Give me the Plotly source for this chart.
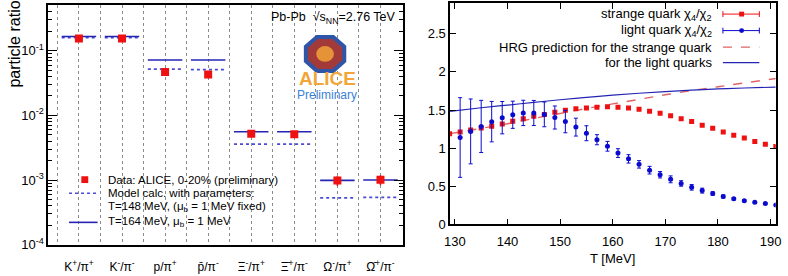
import plotly.graph_objects as go

W, H = 788, 276
FONT = "Liberation Sans, Arial, Helvetica, sans-serif"

# ---------------- left panel data ----------------
categories = ["K<sup>+</sup>/π<sup>+</sup>", "K<sup>-</sup>/π<sup>-</sup>", "p/π<sup>+</sup>",
              "p̄/π<sup>-</sup>", "Ξ<sup>-</sup>/π<sup>+</sup>", "Ξ̄<sup>+</sup>/π<sup>-</sup>",
              "Ω<sup>-</sup>/π<sup>+</sup>", "Ω̄<sup>+</sup>/π<sup>-</sup>"]
alice_data = [0.155, 0.155, 0.047, 0.043, 0.0052, 0.0051, 0.00098, 0.00101]
alice_err = [0.006, 0.006, 0.003, 0.003, 0.0004, 0.0004, 0.00017, 0.00018]
model_T148 = [0.159, 0.159, 0.052, 0.051, 0.0036, 0.0036, 0.00053, 0.00054]
model_T164 = [0.166, 0.166, 0.072, 0.072, 0.0056, 0.0056, 0.00099, 0.00100]
left_yticks = [1e-4, 1e-3, 1e-2, 1e-1]
left_yticktext = ["10<sup>-4</sup>", "10<sup>-3</sup>", "10<sup>-2</sup>", "10<sup>-1</sup>"]

# ---------------- right panel data ----------------
T_strange = [129, 131, 133, 135, 137, 139, 141, 143, 145, 147, 149, 151, 153, 155, 157, 159,
             161, 163, 165, 167, 169, 171, 173, 175, 177, 179, 181, 183, 185, 187, 189, 191]
chi_strange = [1.19, 1.213, 1.238, 1.264, 1.289, 1.318, 1.353, 1.387, 1.417, 1.442, 1.471, 1.497,
               1.518, 1.527, 1.537, 1.542, 1.537, 1.527, 1.51, 1.484, 1.459, 1.425, 1.387, 1.349,
               1.302, 1.26, 1.213, 1.171, 1.133, 1.089, 1.051, 1.022]
err_strange = [0.015, 0.015, 0.014, 0.014, 0.013, 0.013, 0.012, 0.012, 0.012, 0.012, 0.011, 0.011,
               0.011, 0.011, 0.01, 0.01, 0.01, 0.01, 0.01, 0.01, 0.01, 0.01, 0.01, 0.01,
               0.01, 0.01, 0.01, 0.01, 0.01, 0.01, 0.01, 0.01]
T_light = [131, 133, 135, 137, 139, 141, 143, 145, 147, 149, 151, 153, 155, 157, 159, 161,
           163, 165, 167, 169, 171, 173, 175, 177, 179, 181, 183, 185, 187, 189, 191]
chi_light = [1.14, 1.22, 1.285, 1.348, 1.40, 1.438, 1.462, 1.462, 1.443, 1.402, 1.349, 1.276,
             1.196, 1.111, 1.025, 0.936, 0.86, 0.788, 0.712, 0.652, 0.592, 0.538, 0.487, 0.444,
             0.406, 0.368, 0.338, 0.312, 0.291, 0.274, 0.257]
err_light = [0.522, 0.425, 0.342, 0.265, 0.212, 0.178, 0.166, 0.164, 0.162, 0.151, 0.147, 0.117,
             0.098, 0.066, 0.064, 0.057, 0.055, 0.049, 0.05, 0.042, 0.045, 0.036, 0.036, 0.032,
             0.023, 0.02, 0.015, 0.012, 0.012, 0.01, 0.01]
T_hrg = [129, 135, 140, 145, 150, 155, 160, 165, 170, 175, 180, 185, 191]
hrg_strange = [1.19, 1.26, 1.32, 1.39, 1.455, 1.52, 1.58, 1.64, 1.70, 1.755, 1.805, 1.855, 1.913]
hrg_light = [1.483, 1.53, 1.565, 1.60, 1.635, 1.665, 1.695, 1.72, 1.742, 1.76, 1.776, 1.789, 1.80]

RED = "#ee1111"
BLUE = "#0b0bd0"
DBLUE = "#2424b4"
LBLUE = "#4a4ad6"
HRG_RED = "#e06464"


def px(x):
    return x / W


def py(y):
    return 1 - y / H


fig = go.Figure()

# ---- left panel: model segments built from category index ----
idx = list(range(len(categories)))
half = 0.4


def segments(vals):
    xs, ys = [], []
    for i, v in zip(idx, vals):
        xs += [i - half, i + half, None]
        ys += [v, v, None]
    return xs, ys


sx, sy = segments(model_T148)
fig.add_trace(go.Scatter(x=sx, y=sy, mode="lines", xaxis="x", yaxis="y",
                         line=dict(color=LBLUE, width=1.6, dash="dot"), showlegend=False))
sx, sy = segments(model_T164)
fig.add_trace(go.Scatter(x=sx, y=sy, mode="lines", xaxis="x", yaxis="y",
                         line=dict(color=DBLUE, width=1.6), showlegend=False))
fig.add_trace(go.Scatter(x=idx, y=alice_data, mode="markers", xaxis="x", yaxis="y",
                         marker=dict(symbol="square", size=8, color=RED),
                         error_y=dict(type="data", array=alice_err, color=RED, thickness=1.5, width=0),
                         showlegend=False))

# ---- right panel ----
fig.add_trace(go.Scatter(x=T_hrg, y=hrg_strange, mode="lines", xaxis="x2", yaxis="y2",
                         line=dict(color=HRG_RED, width=1.4, dash="dash", shape="spline"),
                         showlegend=False))
fig.add_trace(go.Scatter(x=T_hrg, y=hrg_light, mode="lines", xaxis="x2", yaxis="y2",
                         line=dict(color=DBLUE, width=1.2, shape="spline"), showlegend=False))
fig.add_trace(go.Scatter(x=T_strange, y=chi_strange, mode="markers", xaxis="x2", yaxis="y2",
                         marker=dict(symbol="square", size=5, color=RED),
                         error_y=dict(type="data", array=err_strange, color=RED, thickness=1, width=2),
                         showlegend=False, cliponaxis=True))
fig.add_trace(go.Scatter(x=T_light, y=chi_light, mode="markers", xaxis="x2", yaxis="y2",
                         marker=dict(symbol="circle", size=5, color=BLUE),
                         error_y=dict(type="data", array=err_light, color=BLUE, thickness=1, width=2),
                         showlegend=False, cliponaxis=True))

# minor log ticks for left panel
minor_vals = []
for e in [1e-4, 1e-3, 1e-2, 1e-1]:
    for k in range(2, 10):
        if k * e < 0.5:
            minor_vals.append(k * e)

fig.update_layout(
    width=W, height=H,
    margin=dict(l=0, r=0, t=0, b=0),
    paper_bgcolor="white", plot_bgcolor="white",
    font=dict(family=FONT, size=13, color="black"),
    showlegend=False,
    xaxis=dict(domain=[px(43), px(403)], range=[-0.71, 7.52],
               tickmode="array", tickvals=idx, ticktext=categories,
               ticks="", showline=True, linecolor="black", linewidth=2, mirror=True,
               showgrid=True, gridcolor="#8a8a8a", griddash="dot", gridwidth=1,
               zeroline=False, tickfont=dict(size=12), ticklabelstandoff=10,
               minor=dict(tickvals=[i - 0.5 for i in idx] + [7.5], showgrid=True,
                          gridcolor="#8a8a8a", griddash="dot", gridwidth=1, ticks="")),
    yaxis=dict(domain=[py(252), py(5)], type="log", range=[-4, -0.29],
               tickmode="array", tickvals=left_yticks, ticktext=left_yticktext,
               ticks="inside", ticklen=9, tickwidth=1.2, tickcolor="black",
               showline=True, linecolor="black", linewidth=2, mirror="allticks",
               showgrid=False, zeroline=False, tickfont=dict(size=13),
               minor=dict(tickvals=minor_vals, ticks="inside", ticklen=4, tickcolor="black",
                          tickwidth=1, showgrid=False)),
    xaxis2=dict(domain=[px(451), px(781.5)], range=[129.1, 190.95], anchor="y2",
                tickmode="array", tickvals=[130, 140, 150, 160, 170, 180, 190],
                ticks="inside", ticklen=6, tickcolor="black", tickwidth=1,
                showline=True, linecolor="black", linewidth=1.5, mirror="allticks",
                showgrid=False, zeroline=False, tickfont=dict(size=13), ticklabelstandoff=4),
    yaxis2=dict(domain=[py(231.2), py(3.3)], range=[0, 2.9], anchor="x2",
                tickmode="array", tickvals=[0, 0.5, 1, 1.5, 2, 2.5],
                ticktext=["0", "0.5", "1", "1.5", "2", "2.5"],
                ticks="inside", ticklen=6, tickcolor="black", tickwidth=1,
                showline=True, linecolor="black", linewidth=1.5, mirror="allticks",
                showgrid=False, zeroline=False, tickfont=dict(size=13)),
)

ann = []
shapes = []


def text(x, y, s, size=12, xa="left", ya="middle", color="black", angle=0, bold=False):
    ann.append(dict(x=px(x), y=py(y), xref="paper", yref="paper", text=("<b>%s</b>" % s if bold else s),
                    showarrow=False, xanchor=xa, yanchor=ya, textangle=angle,
                    font=dict(family=FONT, size=size, color=color)))


# axis titles
text(9, 45, "particle ratio", size=16, xa="center", ya="middle", angle=-90)
text(616, 266, "T [MeV]", size=13, xa="center")

# left panel label and logo
text(267, 19, "Pb-Pb  √s<sub>NN</sub>=2.76 TeV", size=12.5)
cx, cy, rx, ry = 324, 55.5, 19.5, 17.5
k = 0.42
pts = [(cx - rx * k, cy - ry), (cx + rx * k, cy - ry), (cx + rx, cy - ry * k), (cx + rx, cy + ry * k),
       (cx + rx * k, cy + ry), (cx - rx * k, cy + ry), (cx - rx, cy + ry * k), (cx - rx, cy - ry * k)]
path = "M " + " L ".join("%.4f,%.4f" % (px(a), py(b)) for a, b in pts) + " Z"
shapes.append(dict(type="path", path=path, xref="paper", yref="paper",
                   fillcolor="#a23a3a", line=dict(color="#2f55a8", width=4)))
shapes.append(dict(type="circle", xref="paper", yref="paper",
                   x0=px(cx - 9), x1=px(cx + 9), y0=py(cy + 8), y1=py(cy - 8),
                   fillcolor="#f2a23a", line=dict(width=0), opacity=0.85))
text(326, 81, "ALICE", size=19, xa="center", color="#f2a63a", bold=True)
text(326, 98, "Preliminary", size=12, xa="center", color="#3a7fd8")

# left legend
shapes.append(dict(type="rect", xref="paper", yref="paper",
                   x0=px(76.5), x1=px(83.5), y0=py(188.5), y1=py(181.5),
                   fillcolor=RED, line=dict(width=0)))
text(102, 185, "Data: ALICE, 0-20% (preliminary)", size=11.5)
shapes.append(dict(type="line", xref="paper", yref="paper", x0=px(64), x1=px(93), y0=py(199), y1=py(199),
                   line=dict(color=LBLUE, width=1.6, dash="dot")))
text(102, 199, "Model calc. with parameters:", size=11.5)
text(102, 213, "T=148 MeV, (μ<sub>b</sub> = 1 MeV fixed)", size=11.5)
shapes.append(dict(type="line", xref="paper", yref="paper", x0=px(64), x1=px(93), y0=py(229), y1=py(229),
                   line=dict(color=DBLUE, width=1.6)))
text(102, 229, "T=164 MeV, μ<sub>b</sub> = 1 MeV", size=11.5)

# right legend (gnuplot style: text right, sample to the right)
rows = [(14.5, "strange quark χ<sub>4</sub>/χ<sub>2</sub>"),
        (31.5, "light quark χ<sub>4</sub>/χ<sub>2</sub>"),
        (48.5, "HRG prediction for the strange quark"),
        (64.5, "for the light quarks")]
for yy, s in rows:
    text(719, yy, s, size=13, xa="right")
x0s, x1s = 728, 765
for yy, col in [(14.5, RED), (31.5, BLUE)]:
    shapes.append(dict(type="line", xref="paper", yref="paper", x0=px(x0s), x1=px(x1s), y0=py(yy), y1=py(yy),
                       line=dict(color=col, width=1)))
    for xe in (x0s, x1s):
        shapes.append(dict(type="line", xref="paper", yref="paper", x0=px(xe), x1=px(xe),
                           y0=py(yy - 3), y1=py(yy + 3), line=dict(color=col, width=1)))
shapes.append(dict(type="rect", xref="paper", yref="paper", x0=px(744.5), x1=px(749.5),
                   y0=py(17), y1=py(12), fillcolor=RED, line=dict(width=0)))
shapes.append(dict(type="circle", xref="paper", yref="paper", x0=px(744.5), x1=px(749.5),
                   y0=py(34), y1=py(29), fillcolor=BLUE, line=dict(width=0)))
shapes.append(dict(type="line", xref="paper", yref="paper", x0=px(x0s), x1=px(x1s), y0=py(48.5), y1=py(48.5),
                   line=dict(color=HRG_RED, width=1.4, dash="dash")))
shapes.append(dict(type="line", xref="paper", yref="paper", x0=px(x0s), x1=px(x1s), y0=py(64.5), y1=py(64.5),
                   line=dict(color=DBLUE, width=1.2)))

fig.update_layout(annotations=ann, shapes=shapes)
fig.write_html("out.html")
